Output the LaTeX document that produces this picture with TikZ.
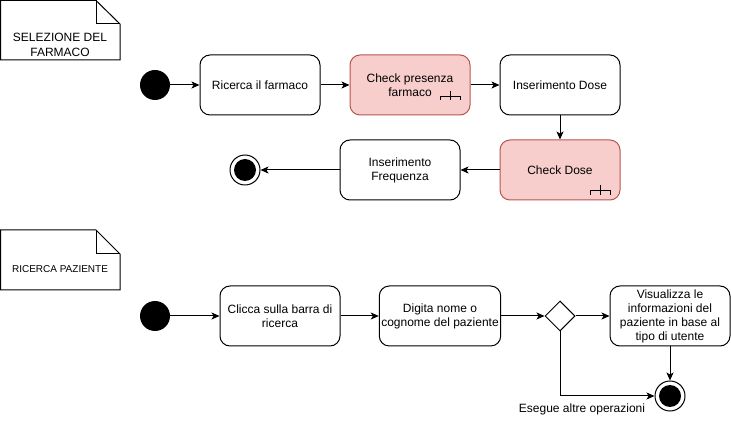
\documentclass[tikz,border=0pt]{standalone}
\usepackage{fontspec}
\setmainfont{Liberation Sans}
\usetikzlibrary{arrows.meta,shapes.geometric}
\definecolor{pinkfill}{HTML}{F8CECC}
\definecolor{pinkdraw}{HTML}{B85450}
\tikzset{
  act/.style={draw=black, line width=1pt, rounded corners=10pt, minimum width=120pt, minimum height=60pt, align=center, inner sep=2pt, font=\fontsize{12}{14}\selectfont, fill=white},
  callact/.style={act, fill=pinkfill, draw=pinkdraw},
  startnode/.style={circle, fill=black, minimum size=30pt, inner sep=0pt},
  endnode/.style={circle, draw=black, line width=1pt, fill=white, minimum size=30pt, inner sep=0pt, path picture={\fill[black] (path picture bounding box.center) circle (11pt);}},
  decision/.style={diamond, draw=black, line width=1pt, fill=white, minimum width=30pt, minimum height=30pt, inner sep=0pt},
  conn/.style={line width=1pt, -{Stealth[length=8pt,width=7pt,inset=2pt]}},
  notetext/.style={align=center},
  rake/.style={line width=0.9pt},
}
\begin{document}
\begin{tikzpicture}[x=1pt,y=-1pt]
\useasboundingbox (0,0) rectangle (731,427);
% notes
\draw[line width=1pt, fill=white] (0.5,0.5) -- (96,0.5) -- (120,24) -- (120,60) -- (0.5,60) -- cycle;
\draw[line width=1pt] (96,0.5) -- (96,24) -- (120,24);
\node[notetext, font=\fontsize{12}{15}\selectfont] (note1) at (60,45) {SELEZIONE DEL\\FARMACO};
\draw[line width=1pt, fill=white] (0.5,230) -- (96,230) -- (120,254) -- (120,290) -- (0.5,290) -- cycle;
\draw[line width=1pt] (96,230) -- (96,254) -- (120,254);
\node[notetext, font=\fontsize{10}{12}\selectfont] (note2) at (60,269) {RICERCA PAZIENTE};

% first flow
\node[startnode] (s1) at (155,85) {};
\node[act] (ric) at (260,85) {Ricerca il farmaco};
\node[callact] (chp) at (410,85) {Check presenza\\farmaco};
\node[act] (ins) at (560,85) {Inserimento Dose};
\node[callact] (chd) at (560,170) {Check Dose};
\node[act] (frq) at (400,170) {Inserimento\\Frequenza};
\node[endnode] (e1) at (245,170) {};

% rake icons
\draw[rake] (440,100) -- (440,96) -- (460,96) -- (460,100) (450,91) -- (450,100);
\draw[rake] (590,195) -- (590,190) -- (610,190) -- (610,195) (600,185) -- (600,195);

\draw[conn] (s1) -- (ric);
\draw[conn] (ric) -- (chp);
\draw[conn] (chp) -- (ins);
\draw[conn] (ins) -- (chd);
\draw[conn] (chd) -- (frq);
\draw[conn] (frq) -- (e1);

% second flow
\node[startnode] (s2) at (155,316) {};
\node[act] (cli) at (280,316) {Clicca sulla barra di\\ricerca};
\node[act] (dig) at (440,316) {Digita nome o\\cognome del paziente};
\node[decision] (dec) at (560,316) {};
\node[act] (vis) at (670,316) {Visualizza le\\informazioni del\\paziente in base al\\tipo di utente};
\node[endnode] (e2) at (670,396) {};

\draw[conn] (s2) -- (cli);
\draw[conn] (cli) -- (dig);
\draw[conn] (dig) -- (dec);
\draw[conn] (dec) -- (vis);
\draw[conn] (vis) -- (e2);
\draw[conn] (dec.south) |- (e2.west);
\node[font=\fontsize{12}{14}\selectfont] (lbl) at (582,409) {Esegue altre operazioni};
\end{tikzpicture}
\end{document}
